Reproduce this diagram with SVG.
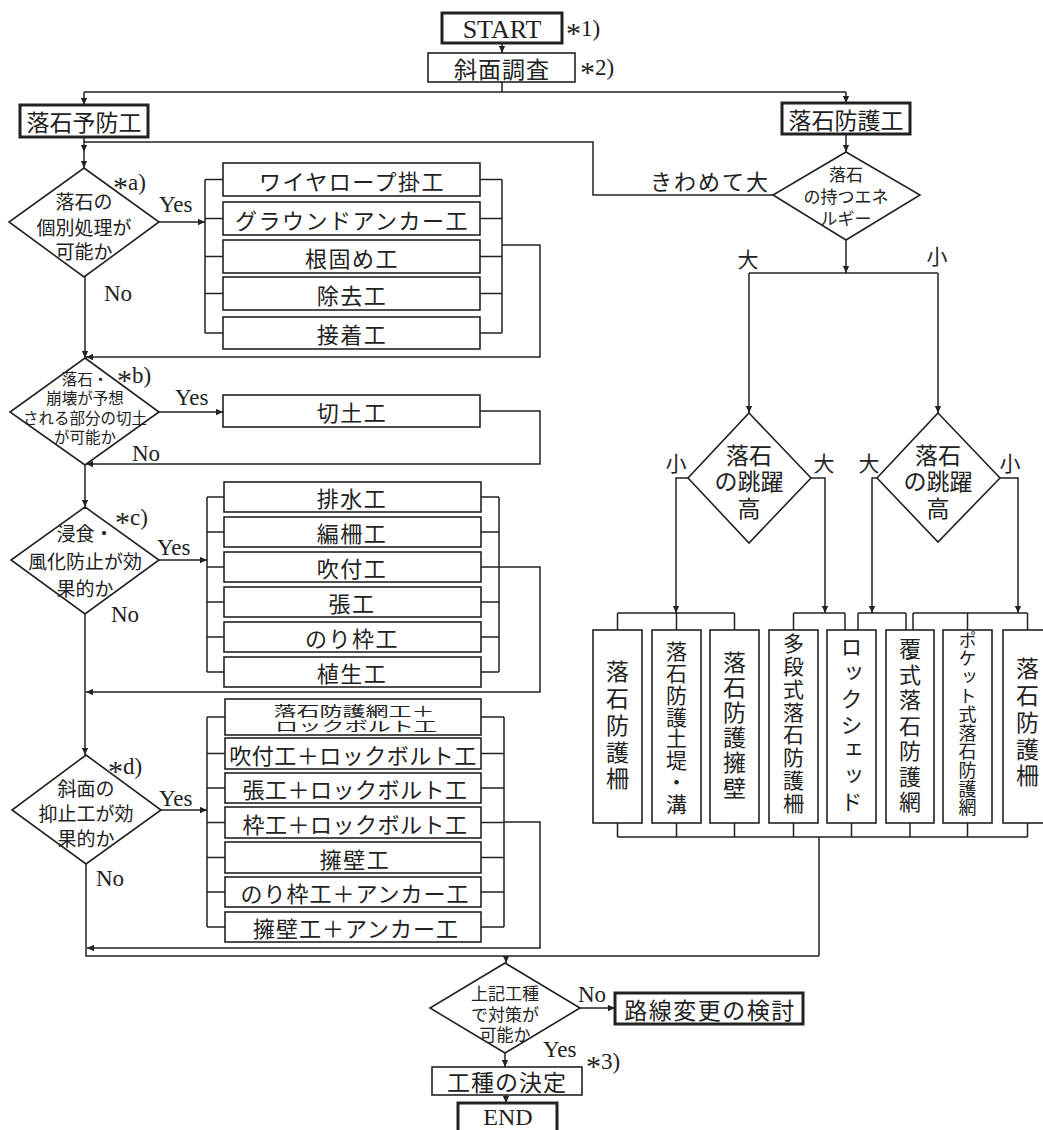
<svg xmlns="http://www.w3.org/2000/svg" width="1043" height="1130" viewBox="0 0 1043 1130">
<defs>
<marker id="ah" viewBox="0 0 10 10" refX="10" refY="5" markerWidth="8" markerHeight="7" markerUnits="userSpaceOnUse" orient="auto"><path d="M0,0.5 L10,5 L0,9.5 z" fill="#222"/></marker>
<style>
.ln{fill:none;stroke:#222;stroke-width:1.5}
.ar{fill:none;stroke:#222;stroke-width:1.5;marker-end:url(#ah)}
.bx{fill:#fff;stroke:#222;stroke-width:1.6}
.tb{fill:#fff;stroke:#222;stroke-width:3}
.dm{fill:#fff;stroke:#222;stroke-width:1.6}
.jp{font-family:"Noto Sans CJK JP","Noto Sans CJK SC",sans-serif;fill:#222;text-anchor:middle;dominant-baseline:central}
.vt{font-family:"Noto Sans CJK JP","Noto Sans CJK SC",sans-serif;fill:#222;text-anchor:middle;writing-mode:vertical-rl}
.en{font-family:"Liberation Serif","Times New Roman",serif;fill:#222;font-size:23px}
.b22{font-size:22px;letter-spacing:1.5px}
.d19{font-size:19px}
</style>
</defs>
<rect width="1043" height="1130" fill="#fff"/>

<g id="connectors">
<path class="ar" d="M502,43 V53"/>
<path class="ln" d="M502,82 V92 M84,92 H846"/>
<path class="ar" d="M84,92 V105"/>
<path class="ar" d="M846,92 V103"/>
<path class="ar" d="M84,137 V152"/>
<path class="ar" d="M84,152 V168"/>
<path class="ln" d="M773,195 H593 V142 H84"/>
<path class="ar" d="M846,134 V152"/>
<path class="ar" d="M159,222 H205"/>
<path class="ln" d="M205,179.5 V333 M205,179.5 H223 M205,218.5 H223 M205,256.5 H223 M205,293.5 H223 M205,333 H223"/>
<path class="ln" d="M502,179.5 V333 M480,179.5 H502 M480,218.5 H502 M480,256.5 H502 M480,293.5 H502 M480,333 H502"/>
<path class="ar" d="M502,245 H540 V357 H86"/>
<path class="ar" d="M85,277 V358"/>
<path class="ar" d="M159,412 H223"/>
<path class="ar" d="M480,411 H540 V464 H86"/>
<path class="ar" d="M85,465 V507"/>
<path class="ar" d="M159,560 H207"/>
<path class="ln" d="M207,497 V672 M207,497 H224 M207,532 H224 M207,567 H224 M207,602 H224 M207,637 H224 M207,672 H224"/>
<path class="ln" d="M499,497 V672 M481,497 H499 M481,532 H499 M481,567 H499 M481,602 H499 M481,637 H499 M481,672 H499"/>
<path class="ar" d="M499,567 H540 V692 H86"/>
<path class="ar" d="M85,614 V755"/>
<path class="ar" d="M161,810 H207"/>
<path class="ln" d="M207,717 V927 M207,717 H225 M207,753.5 H225 M207,788 H225 M207,822.5 H225 M207,857.5 H225 M207,892 H225 M207,927 H225"/>
<path class="ln" d="M504,717 V927 M481,717 H504 M481,753.5 H504 M481,788 H504 M481,822.5 H504 M481,857.5 H504 M481,892 H504 M481,927 H504"/>
<path class="ar" d="M504,822 H540 V948 H87"/>
<path class="ln" d="M86,864 V956 H819"/>
<path class="ar" d="M846,240 V273"/>
<path class="ln" d="M749,273 H938"/>
<path class="ar" d="M749,273 V413"/>
<path class="ar" d="M938,273 V413"/>
<path class="ar" d="M688,478 H676 V613"/>
<path class="ar" d="M811,478 H825 V613"/>
<path class="ar" d="M877,478 H872 V613"/>
<path class="ar" d="M1000,478 H1018 V613"/>
<path class="ln" d="M617.5,613 H734.5 M617.5,613 V630 M676.5,613 V630 M734.5,613 V630"/>
<path class="ln" d="M793.5,613 H845 M793.5,613 V630 M845,613 V630"/>
<path class="ln" d="M858,613 H906 M858,613 V630 M906,613 V630"/>
<path class="ln" d="M913,613 H1027.5 M913,613 V630 M967.5,613 V630 M1027.5,613 V630"/>
<path class="ln" d="M617.5,823 V837 M676.5,823 V837 M734.5,823 V837 M793.5,823 V837 M851.5,823 V837 M910,823 V837 M967.5,823 V837 M1027.5,823 V837 M617.5,837 H1027.5 M819,837 V956"/>
<path class="ar" d="M506,956 V963"/>
<path class="ar" d="M580,1008 H615"/>
<path class="ar" d="M505,1053 V1067"/>
<path class="ar" d="M506,1095 V1103"/>
</g>

<g id="start"><rect class="tb" x="442" y="13" width="120" height="30"/><text class="en" x="502" y="38" text-anchor="middle" style="font-size:26px">START</text></g>
<text class="en" x="566" y="36"><tspan style="font-size:30px" dy="7">*</tspan><tspan dy="-7">1)</tspan></text>
<g id="survey"><rect class="bx" x="428" y="53" width="147" height="29"/><text class="jp" x="502" y="67.5" style="font-size:23px;letter-spacing:1px">斜面調査</text></g>
<text class="en" x="580" y="75"><tspan style="font-size:30px" dy="7">*</tspan><tspan dy="-7">2)</tspan></text>

<g id="prevention"><rect class="tb" x="20" y="105" width="128" height="32"/><text class="jp" x="84" y="121" style="font-size:23px">落石予防工</text></g>
<g id="protection"><rect class="tb" x="782" y="103" width="128" height="31"/><text class="jp" x="846" y="119" style="font-size:23px">落石防護工</text></g>

<g id="dec-a"><polygon class="dm" points="84,168 159,222 84,277 9,222"/>
<text class="jp d19"><tspan x="84" y="200">落石の</tspan><tspan x="84" y="226">個別処理が</tspan><tspan x="84" y="250">可能か</tspan></text></g>
<text class="en" x="113" y="190"><tspan style="font-size:30px" dy="7">*</tspan><tspan dy="-7">a)</tspan></text>
<text class="en" x="159" y="212">Yes</text>
<text class="en" x="104" y="301">No</text>

<g id="a1"><rect class="bx" x="223" y="163" width="257" height="33"/><text class="jp b22" x="352" y="179.5">ワイヤロープ掛工</text></g>
<g id="a2"><rect class="bx" x="223" y="202" width="257" height="33"/><text class="jp b22" x="352" y="218.5">グラウンドアンカー工</text></g>
<g id="a3"><rect class="bx" x="223" y="240" width="257" height="33"/><text class="jp b22" x="352" y="256.5">根固め工</text></g>
<g id="a4"><rect class="bx" x="223" y="277" width="257" height="33"/><text class="jp b22" x="352" y="293.5">除去工</text></g>
<g id="a5"><rect class="bx" x="223" y="317" width="257" height="32"/><text class="jp b22" x="352" y="333">接着工</text></g>

<g id="dec-b"><polygon class="dm" points="85,358 159,412 85,465 10,412"/>
<text class="jp" style="font-size:15.5px"><tspan x="85" y="378">落石・</tspan><tspan x="85" y="397">崩壊が予想</tspan><tspan x="85" y="417">される部分の切土</tspan><tspan x="85" y="436">が可能か</tspan></text></g>
<text class="en" x="117" y="383"><tspan style="font-size:30px" dy="7">*</tspan><tspan dy="-7">b)</tspan></text>
<text class="en" x="175" y="405">Yes</text>
<text class="en" x="132" y="461">No</text>
<g id="b1"><rect class="bx" x="223" y="395" width="257" height="32"/><text class="jp b22" x="352" y="411">切土工</text></g>

<g id="dec-c"><polygon class="dm" points="85,507 159,560 85,614 11,560"/>
<text class="jp d19"><tspan x="85" y="532">浸食・</tspan><tspan x="85" y="560">風化防止が効</tspan><tspan x="85" y="587">果的か</tspan></text></g>
<text class="en" x="115" y="525"><tspan style="font-size:30px" dy="7">*</tspan><tspan dy="-7">c)</tspan></text>
<text class="en" x="157" y="555">Yes</text>
<text class="en" x="111" y="622">No</text>
<g id="c1"><rect class="bx" x="224" y="482" width="257" height="30"/><text class="jp b22" x="352" y="497">排水工</text></g>
<g id="c2"><rect class="bx" x="224" y="517" width="257" height="30"/><text class="jp b22" x="352" y="532">編柵工</text></g>
<g id="c3"><rect class="bx" x="224" y="552" width="257" height="30"/><text class="jp b22" x="352" y="567">吹付工</text></g>
<g id="c4"><rect class="bx" x="224" y="587" width="257" height="30"/><text class="jp b22" x="352" y="602">張工</text></g>
<g id="c5"><rect class="bx" x="224" y="622" width="257" height="30"/><text class="jp b22" x="352" y="637">のり枠工</text></g>
<g id="c6"><rect class="bx" x="224" y="657" width="257" height="30"/><text class="jp b22" x="352" y="672">植生工</text></g>

<g id="dec-d"><polygon class="dm" points="86,755 161,810 86,864 12,810"/>
<text class="jp d19"><tspan x="86" y="787">斜面の</tspan><tspan x="86" y="812">抑止工が効</tspan><tspan x="86" y="837">果的か</tspan></text></g>
<text class="en" x="108" y="774"><tspan style="font-size:30px" dy="7">*</tspan><tspan dy="-7">d)</tspan></text>
<text class="en" x="159" y="806">Yes</text>
<text class="en" x="96" y="886">No</text>
<g id="d1"><rect class="bx" x="225" y="699" width="256" height="36"/><text class="jp" style="font-size:14px"><tspan x="354" y="710" textLength="161" lengthAdjust="spacingAndGlyphs">落石防護網工＋</tspan><tspan x="356" y="725" textLength="162" lengthAdjust="spacingAndGlyphs">ロックボルト工</tspan></text></g>
<g id="d2"><rect class="bx" x="225" y="738" width="256" height="31"/><text class="jp" x="353" y="753.5" style="font-size:22px;letter-spacing:0.5px">吹付工＋ロックボルト工</text></g>
<g id="d3"><rect class="bx" x="225" y="773" width="256" height="30"/><text class="jp" x="355" y="788" style="font-size:22px;letter-spacing:0.5px">張工＋ロックボルト工</text></g>
<g id="d4"><rect class="bx" x="225" y="807" width="256" height="31"/><text class="jp" x="355" y="822.5" style="font-size:22px;letter-spacing:0.5px">枠工＋ロックボルト工</text></g>
<g id="d5"><rect class="bx" x="225" y="842" width="256" height="31"/><text class="jp b22" x="355" y="857.5">擁壁工</text></g>
<g id="d6"><rect class="bx" x="225" y="877" width="256" height="30"/><text class="jp" x="355" y="892" style="font-size:22px;letter-spacing:1px">のり枠工＋アンカー工</text></g>
<g id="d7"><rect class="bx" x="225" y="912" width="256" height="30"/><text class="jp" x="356" y="927" style="font-size:22px;letter-spacing:1px">擁壁工＋アンカー工</text></g>

<g id="dec-energy"><polygon class="dm" points="846,152 920,195 846,240 773,195"/>
<text class="jp" style="font-size:17px"><tspan x="846" y="173">落石</tspan><tspan x="846" y="195">の持つエネ</tspan><tspan x="846" y="217">ルギー</tspan></text></g>
<text class="jp" x="710" y="180" style="font-size:22px;letter-spacing:2px">きわめて大</text>
<text class="jp" x="748" y="258" style="font-size:21px">大</text>
<text class="jp" x="937" y="255" style="font-size:21px">小</text>

<g id="dec-jump1"><polygon class="dm" points="749,413 811,478 749,543 688,478"/>
<text class="jp" style="font-size:23px"><tspan x="749" y="454">落石</tspan><tspan x="749" y="480">の跳躍</tspan><tspan x="749" y="507">高</tspan></text></g>
<g id="dec-jump2"><polygon class="dm" points="938,413 1000,478 938,542 877,478"/>
<text class="jp" style="font-size:23px"><tspan x="938" y="454">落石</tspan><tspan x="938" y="480">の跳躍</tspan><tspan x="938" y="507">高</tspan></text></g>
<text class="jp" x="676" y="462" style="font-size:21px">小</text>
<text class="jp" x="824" y="462" style="font-size:21px">大</text>
<text class="jp" x="869" y="462" style="font-size:21px">大</text>
<text class="jp" x="1010" y="462" style="font-size:21px">小</text>

<g id="p1"><rect class="bx" x="593" y="630" width="49" height="193"/><text class="vt" x="617.5" y="727" style="font-size:23px;letter-spacing:3.7px">落石防護柵</text></g>
<g id="p2"><rect class="bx" x="652" y="630" width="49" height="193"/><text class="vt" x="676.5" y="728" style="font-size:21px;letter-spacing:0.8px">落石防護土堤・溝</text></g>
<g id="p3"><rect class="bx" x="710" y="630" width="49" height="193"/><text class="vt" x="734.5" y="726" style="font-size:23px;letter-spacing:2.2px">落石防護擁壁</text></g>
<g id="p4"><rect class="bx" x="769" y="630" width="49" height="193"/><text class="vt" x="793.5" y="724" style="font-size:21px;letter-spacing:1.9px">多段式落石防護柵</text></g>
<g id="p5"><rect class="bx" x="827" y="630" width="49" height="193"/><text class="vt" x="851.5" y="726" style="font-size:22px;letter-spacing:3.7px">ロックシェッド</text></g>
<g id="p6"><rect class="bx" x="886" y="630" width="48" height="193"/><text class="vt" x="910" y="727" style="font-size:22px;letter-spacing:3.5px">覆式落石防護網</text></g>
<g id="p7"><rect class="bx" x="943" y="630" width="49" height="193"/><text class="vt" x="967.5" y="724" style="font-size:18px;letter-spacing:0.6px">ポケット式落石防護網</text></g>
<g id="p8"><rect class="bx" x="1003" y="630" width="49" height="193"/><text class="vt" x="1027.5" y="724" style="font-size:23px;letter-spacing:3.7px">落石防護柵</text></g>

<g id="dec-final"><polygon class="dm" points="505,963 580,1008 505,1053 430,1008"/>
<text class="jp" style="font-size:17px"><tspan x="505" y="992">上記工種</tspan><tspan x="505" y="1013">で対策が</tspan><tspan x="505" y="1033">可能か</tspan></text></g>
<text class="en" x="578" y="1002">No</text>
<text class="en" x="543" y="1057">Yes</text>
<text class="en" x="586" y="1069"><tspan style="font-size:30px" dy="7">*</tspan><tspan dy="-7">3)</tspan></text>
<g id="reroute"><rect class="tb" x="615" y="993" width="188" height="31"/><text class="jp" x="710" y="1009" style="font-size:23px;letter-spacing:1.5px">路線変更の検討</text></g>
<g id="decide"><rect class="bx" x="432" y="1067" width="150" height="28"/><text class="jp" x="507" y="1081" style="font-size:23px;letter-spacing:1px">工種の決定</text></g>
<g id="end"><rect class="tb" x="458" y="1103" width="99" height="40"/><text class="en" x="508" y="1125" text-anchor="middle" style="font-size:24px">END</text></g>
</svg>
